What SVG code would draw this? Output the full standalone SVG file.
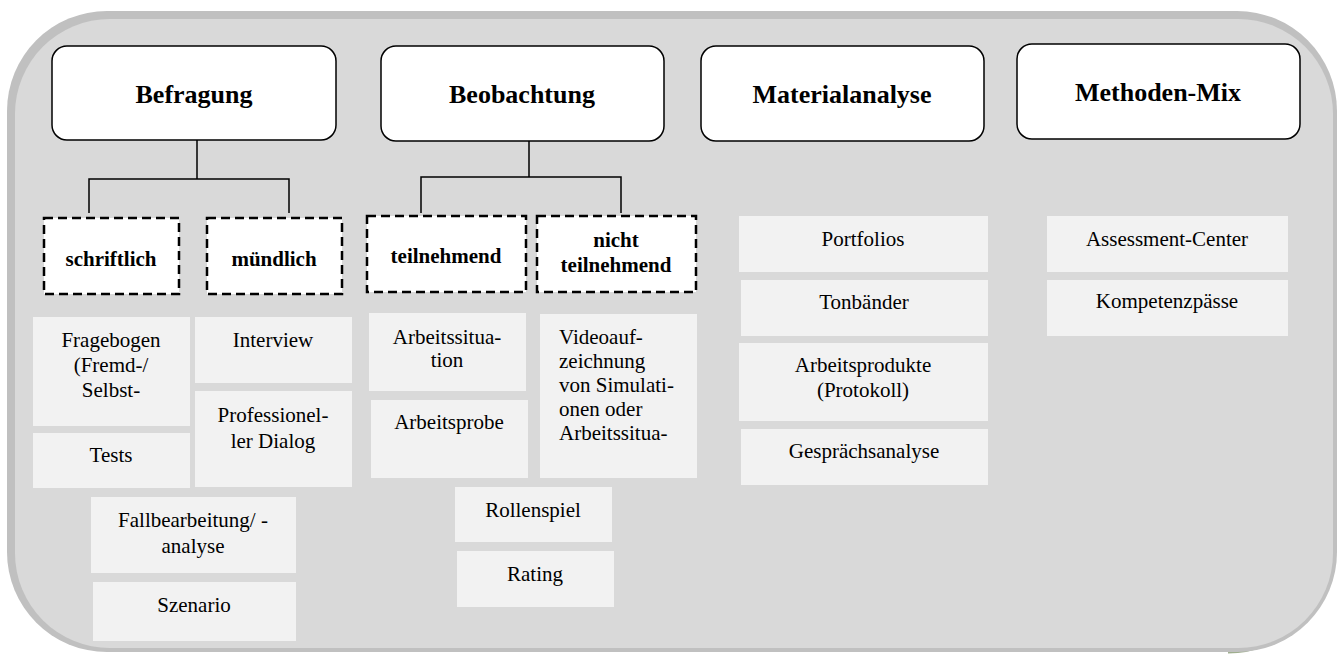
<svg xmlns="http://www.w3.org/2000/svg" width="1337" height="654" viewBox="0 0 1337 654">
<style>
.top{fill:#fff;stroke:#000;stroke-width:1.5}
.dash{fill:#fff;stroke:#000;stroke-width:2.5;stroke-dasharray:9,5}
.item{fill:#f2f2f2}
.conn{fill:none;stroke:#000;stroke-width:1.5}
text{font-family:"Times New Roman","Liberation Serif","DejaVu Serif",serif;fill:#000;text-anchor:middle}
text.left{text-anchor:start}
.h1{font-size:26px;font-weight:bold}
.h2{font-size:21px;font-weight:bold}
.t{font-size:21px}
</style>
<rect width="1337" height="654" fill="#fff"/>
<g id="background">
<path d="M 1332 548 A 104 104 0 0 1 1228 652" fill="none" stroke="#9fae8e" stroke-width="3"/>
<rect x="7" y="11" width="1330" height="641" rx="100" ry="100" fill="#c0c0c0"/>
<rect x="15" y="19" width="1318" height="629" rx="95" ry="95" fill="#d9d9d9"/>
</g>
<g id="connectors">
<path class="conn" d="M197 140 V179 M89 213 V179 H289 V213"/>
<path class="conn" d="M529 141 V177 M421 213 V177 H621 V213"/>
</g>
<g id="befragung"><rect class="top" x="52" y="46" width="284" height="94" rx="15"/><text class="h1" x="194" y="103">Befragung</text></g>
<g id="beobachtung"><rect class="top" x="381" y="46" width="283" height="95" rx="15"/><text class="h1" x="522" y="103">Beobachtung</text></g>
<g id="materialanalyse"><rect class="top" x="701" y="46" width="283" height="95" rx="15"/><text class="h1" x="842" y="103">Materialanalyse</text></g>
<g id="methodenmix"><rect class="top" x="1017" y="44" width="283" height="95" rx="15"/><text class="h1" x="1158" y="101">Methoden-Mix</text></g>
<g id="schriftlich"><rect class="dash" x="44" y="218" width="135" height="76"/><text class="h2" x="111" y="266">schriftlich</text></g>
<g id="muendlich"><rect class="dash" x="207" y="218" width="135" height="76"/><text class="h2" x="274" y="266">mündlich</text></g>
<g id="teilnehmend"><rect class="dash" x="367" y="216" width="159" height="76"/><text class="h2" x="446" y="263">teilnehmend</text></g>
<g id="nichtteilnehmend"><rect class="dash" x="537" y="216" width="159" height="76"/><text class="h2" x="616" y="247">nicht</text><text class="h2" x="616" y="272">teilnehmend</text></g>
<g id="fragebogen"><rect class="item" x="33" y="317" width="157" height="109"/><text class="t" x="111" y="347">Fragebogen</text><text class="t" x="111" y="372">(Fremd-/</text><text class="t" x="111" y="397">Selbst-</text></g>
<g id="tests"><rect class="item" x="33" y="433" width="157" height="55"/><text class="t" x="111" y="462">Tests</text></g>
<g id="interview"><rect class="item" x="195" y="317" width="157" height="66"/><text class="t" x="273" y="347">Interview</text></g>
<g id="dialog"><rect class="item" x="195" y="391" width="157" height="96"/><text class="t" x="273" y="422">Professionel-</text><text class="t" x="273" y="448">ler Dialog</text></g>
<g id="fallbearbeitung"><rect class="item" x="91" y="497" width="205" height="76"/><text class="t" x="193" y="527">Fallbearbeitung/ -</text><text class="t" x="193" y="553">analyse</text></g>
<g id="szenario"><rect class="item" x="93" y="582" width="203" height="59"/><text class="t" x="194" y="612">Szenario</text></g>
<g id="arbeitssituation"><rect class="item" x="369" y="313" width="157" height="78"/><text class="t" x="447" y="344">Arbeitssitua-</text><text class="t" x="447" y="367">tion</text></g>
<g id="arbeitsprobe"><rect class="item" x="371" y="400" width="157" height="78"/><text class="t" x="449" y="429">Arbeitsprobe</text></g>
<g id="video"><rect class="item" x="540" y="314" width="157" height="164"/><text class="t left" x="559" y="344">Videoauf-</text><text class="t left" x="559" y="368">zeichnung</text><text class="t left" x="559" y="392">von Simulati-</text><text class="t left" x="559" y="416">onen oder</text><text class="t left" x="559" y="440">Arbeitssitua-</text></g>
<g id="rollenspiel"><rect class="item" x="455" y="487" width="157" height="55"/><text class="t" x="533" y="517">Rollenspiel</text></g>
<g id="rating"><rect class="item" x="457" y="551" width="157" height="56"/><text class="t" x="535" y="581">Rating</text></g>
<g id="portfolios"><rect class="item" x="739" y="216" width="249" height="56"/><text class="t" x="863" y="246">Portfolios</text></g>
<g id="tonbaender"><rect class="item" x="741" y="280" width="247" height="56"/><text class="t" x="864" y="309">Tonbänder</text></g>
<g id="arbeitsprodukte"><rect class="item" x="739" y="343" width="249" height="78"/><text class="t" x="863" y="372">Arbeitsprodukte</text><text class="t" x="863" y="397">(Protokoll)</text></g>
<g id="gespraechsanalyse"><rect class="item" x="741" y="429" width="247" height="56"/><text class="t" x="864" y="458">Gesprächsanalyse</text></g>
<g id="assessment"><rect class="item" x="1047" y="216" width="241" height="56"/><text class="t" x="1167" y="246">Assessment-Center</text></g>
<g id="kompetenz"><rect class="item" x="1047" y="280" width="241" height="56"/><text class="t" x="1167" y="308">Kompetenzpässe</text></g>
</svg>
